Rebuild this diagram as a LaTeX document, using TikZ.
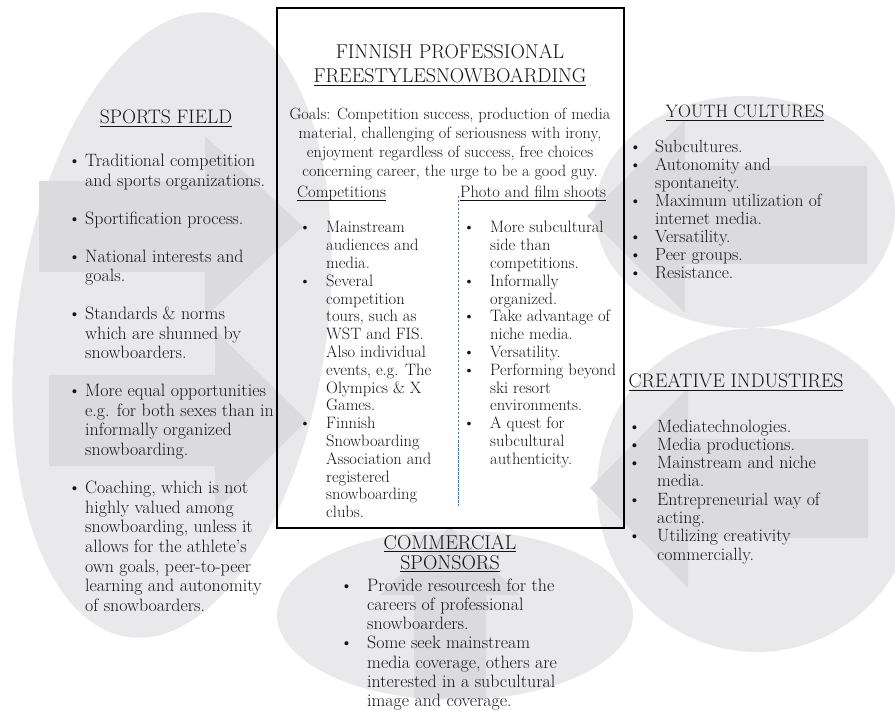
\documentclass[tikz,border=0pt]{standalone}
\usepackage{fontspec}
\definecolor{ell}{RGB}{233,233,235}
\definecolor{arr}{RGB}{219,219,221}
\definecolor{txt}{RGB}{20,20,20}
\definecolor{dashblue}{RGB}{68,114,196}
\newcommand\ulx[1]{\setbox0=\hbox{#1}\rlap{\rule[-2.8pt]{\wd0}{0.9pt}}\box0}
\newcommand\itm[1]{\makebox[#1][l]{\textbullet}}
\newcommand\cnt[1]{\hspace*{#1}}
\tikzset{
 blob/.style={fill=ell, draw=none},
 blockarrow/.style={fill=arr, draw=none},
 lab/.style={inner sep=0pt, text=txt, anchor=base west},
 ttlstyle/.style={inner sep=0pt, text=txt, anchor=base, font=\fontsize{20}{24}\selectfont},
 bodyL/.style={lab, font=\fontsize{17.9}{19.7}\selectfont},
 bodyY/.style={lab, font=\fontsize{17.6}{17.9}\selectfont},
 bodyC/.style={lab, font=\fontsize{17.8}{18.3}\selectfont},
 bodyS/.style={lab, font=\fontsize{17.9}{19.3}\selectfont},
 bodyB/.style={lab, font=\fontsize{16.5}{17.8}\selectfont},
 frame/.style={draw=black, line width=1.6pt, fill=none, inner sep=0pt, anchor=north west},
 dashline/.style={draw=dashblue, line width=0.8pt, dash pattern=on 2.5pt off 1.5pt},
}
\begin{document}
\begin{tikzpicture}[x=1pt,y=-1pt]
\useasboundingbox (0,0) rectangle (895,711);
% background ellipses
\path[blob, rotate around={-8:(172,325)}] (172,325) ellipse [x radius=155pt, y radius=315pt];
\path[blob] (745,212) ellipse [x radius=150pt, y radius=116pt];
\path[blob] (757,490) ellipse [x radius=160pt, y radius=162pt];
\path[blob] (455,615) ellipse [x radius=178pt, y radius=85pt];
% block arrows
\path[blockarrow] (39,181) -- (205,181) -- (205,136) -- (303,226.5) -- (205,317) -- (205,272) -- (39,272) -- cycle;
\path[blockarrow] (49,375) -- (215,375) -- (215,330) -- (307,420.5) -- (215,511) -- (215,466) -- (49,466) -- cycle;
\path[blockarrow] (867,166) -- (685,166) -- (685,120) -- (587,216) -- (685,313) -- (685,264) -- (867,264) -- cycle;
\path[blockarrow] (868,439) -- (688,439) -- (688,388) -- (590,488) -- (688,588) -- (688,538) -- (868,538) -- cycle;
\path[blockarrow] (414,698) -- (414,595) -- (380,595) -- (450,527) -- (520,595) -- (486,595) -- (486,698) -- cycle;
% central frame
\node[frame, minimum width=347pt, minimum height=520pt] (bx) at (276,7) {};
\node[ttlstyle] (ttl) at (450,59) {\begin{tabular}[t]{@{}c@{}}FINNISH PROFESSIONAL\\\ulx{FREESTYLESNOWBOARDING}\end{tabular}};
\node[inner sep=0pt, text=txt, anchor=base, font=\fontsize{16.3}{19}\selectfont] (goals) at (450,120) {\begin{tabular}[t]{@{}c@{}}Goals: Competition success, production of media\\material, challenging of seriousness with irony,\\enjoyment regardless of success, free choices\\concerning career, the urge to be a good guy.\end{tabular}};
\node[bodyB] (comph) at (297,198) {\ulx{Competitions}};
\node[bodyB] (photoh) at (460,198) {\ulx{Photo and film shoots}};
\coordinate (dtop) at (458,196);
\coordinate (dbot) at (458,506);
\draw[dashline] (dtop) -- (dbot);
\node[bodyB] (comp) at (299,233) {\begin{tabular}[t]{@{}l@{}}
\itm{27pt}Mainstream\\\cnt{27pt}audiences and\\\cnt{27pt}media.\\
\itm{27pt}Several\\\cnt{27pt}competition\\\cnt{27pt}tours, such as\\\cnt{27pt}WST and FIS.\\\cnt{27pt}Also individual\\\cnt{27pt}events, e.g. The\\\cnt{27pt}Olympics \& X\\\cnt{27pt}Games.\\
\itm{27pt}Finnish\\\cnt{27pt}Snowboarding\\\cnt{27pt}Association and\\\cnt{27pt}registered\\\cnt{27pt}snowboarding\\\cnt{27pt}clubs.
\end{tabular}};
\node[bodyB] (photo) at (463,233) {\begin{tabular}[t]{@{}l@{}}
\itm{27pt}More subcultural\\\cnt{27pt}side than\\\cnt{27pt}competitions.\\
\itm{27pt}Informally\\\cnt{27pt}organized.\\
\itm{27pt}Take advantage of\\\cnt{27pt}niche media.\\
\itm{27pt}Versatility.\\
\itm{27pt}Performing beyond\\\cnt{27pt}ski resort\\\cnt{27pt}environments.\\
\itm{27pt}A quest for\\\cnt{27pt}subcultural\\\cnt{27pt}authenticity.
\end{tabular}};
% sports field
\node[ttlstyle, font=\fontsize{19.5}{22}\selectfont] (sft) at (166,124) {\ulx{SPORTS FIELD}};
\node[bodyL] (sfl) at (68,167) {\begin{tabular}[t]{@{}l@{}}
\itm{17pt}Traditional competition\\\cnt{17pt}and sports organizations.\\[18pt]
\itm{17pt}Sportification process.\\[18pt]
\itm{17pt}National interests and\\\cnt{17pt}goals.\\[18pt]
\itm{17pt}Standards \& norms\\\cnt{17pt}which are shunned by\\\cnt{17pt}snowboarders.\\[18pt]
\itm{17pt}More equal opportunities\\\cnt{17pt}e.g. for both sexes than in\\\cnt{17pt}informally organized\\\cnt{17pt}snowboarding.\\[18pt]
\itm{17pt}Coaching, which is not\\\cnt{17pt}highly valued among\\\cnt{17pt}snowboarding, unless it\\\cnt{17pt}allows for the athlete’s\\\cnt{17pt}own goals, peer-to-peer\\\cnt{17pt}learning and autonomity\\\cnt{17pt}of snowboarders.
\end{tabular}};
% youth cultures
\node[ttlstyle, font=\fontsize{18}{22}\selectfont] (yct) at (745,118) {\ulx{YOUTH CULTURES}};
\node[bodyY] (ycl) at (629,153) {\begin{tabular}[t]{@{}l@{}}
\itm{26pt}Subcultures.\\
\itm{26pt}Autonomity and\\\cnt{26pt}spontaneity.\\
\itm{26pt}Maximum utilization of\\\cnt{26pt}internet media.\\
\itm{26pt}Versatility.\\
\itm{26pt}Peer groups.\\
\itm{26pt}Resistance.
\end{tabular}};
% creative industries
\node[ttlstyle, font=\fontsize{19.6}{22}\selectfont] (cit) at (736,388) {\ulx{CREATIVE INDUSTIRES}};
\node[bodyC] (cil) at (628,432) {\begin{tabular}[t]{@{}l@{}}
\itm{29pt}Mediatechnologies.\\
\itm{29pt}Media productions.\\
\itm{29pt}Mainstream and niche\\\cnt{29pt}media.\\
\itm{29pt}Entrepreneurial way of\\\cnt{29pt}acting.\\
\itm{29pt}Utilizing creativity\\\cnt{29pt}commercially.
\end{tabular}};
% commercial sponsors
\node[ttlstyle, font=\fontsize{20}{20}\selectfont] (cst) at (450,549) {\begin{tabular}[t]{@{}c@{}}\ulx{COMMERCIAL}\\\ulx{SPONSORS}\end{tabular}};
\node[bodyS] (csl) at (340,591) {\begin{tabular}[t]{@{}l@{}}
\itm{27pt}Provide resourcesh for the\\\cnt{27pt}careers of professional\\\cnt{27pt}snowboarders.\\
\itm{27pt}Some seek mainstream\\\cnt{27pt}media coverage, others are\\\cnt{27pt}interested in a subcultural\\\cnt{27pt}image and coverage.
\end{tabular}};
\end{tikzpicture}
\end{document}
